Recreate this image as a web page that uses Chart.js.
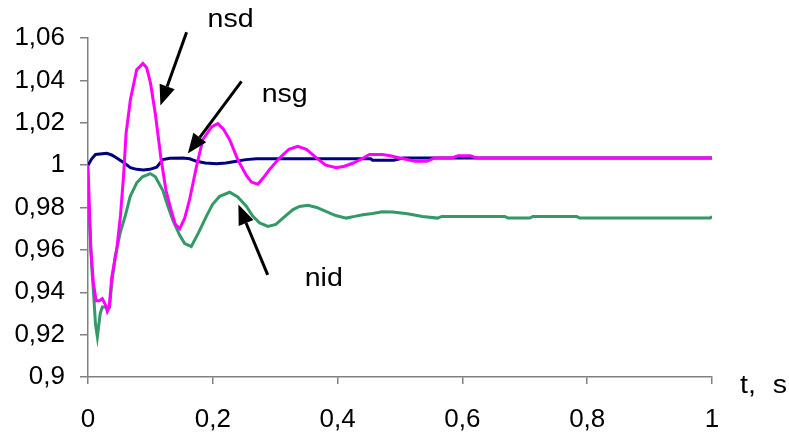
<!DOCTYPE html>
<html>
<head>
<meta charset="utf-8">
<script src="https://cdn.jsdelivr.net/npm/chart.js@4.4.1/dist/chart.umd.min.js"></script>
<style>
html,body{margin:0;padding:0;background:#fff;}
#wrap{width:789px;height:433px;position:relative;}
</style>
</head>
<body>
<div id="wrap"><canvas id="c" width="789" height="433"></canvas></div>
<script>
// ---- data ----
const xTicks = [0, 0.2, 0.4, 0.6, 0.8, 1];
const xTickLabels = ['0', '0,2', '0,4', '0,6', '0,8', '1'];
const yTicks = [0.9, 0.92, 0.94, 0.96, 0.98, 1, 1.02, 1.04, 1.06];
const yTickLabels = ['0,9', '0,92', '0,94', '0,96', '0,98', '1', '1,02', '1,04', '1,06'];

const nsdT = [0, 0.0045, 0.0088, 0.013, 0.018, 0.023, 0.028, 0.031, 0.034, 0.038, 0.046, 0.052, 0.057, 0.061, 0.068, 0.078, 0.088, 0.094, 0.100, 0.108, 0.117, 0.125, 0.133, 0.140, 0.147, 0.155, 0.163, 0.174, 0.184, 0.198, 0.208, 0.217, 0.227, 0.240, 0.254, 0.262, 0.272, 0.281, 0.291, 0.307, 0.322, 0.336, 0.350, 0.366, 0.381, 0.398, 0.411, 0.425, 0.439, 0.451, 0.472, 0.484, 0.500, 0.524, 0.543, 0.556, 0.583, 0.593, 0.613, 0.622, 1.0];
const nsdV = [1.000, 0.960, 0.944, 0.936, 0.936, 0.937, 0.934, 0.931, 0.933, 0.947, 0.960, 0.976, 0.995, 1.015, 1.031, 1.045, 1.048, 1.046, 1.039, 1.024, 1.003, 0.988, 0.979, 0.972, 0.970, 0.975, 0.984, 0.9995, 1.012, 1.018, 1.0196, 1.017, 1.012, 1.0026, 0.995, 0.992, 0.991, 0.994, 0.998, 1.0034, 1.0075, 1.0089, 1.0075, 1.0034, 1.000, 0.9988, 0.9995, 1.001, 1.003, 1.005, 1.005, 1.0044, 1.0034, 1.0018, 1.0018, 1.0034, 1.0034, 1.0044, 1.0044, 1.0034, 1.0034];

const nsgT = [0, 0.006, 0.012, 0.030, 0.038, 0.046, 0.057, 0.068, 0.078, 0.089, 0.099, 0.110, 0.120, 0.131, 0.152, 0.163, 0.174, 0.188, 0.206, 0.221, 0.238, 0.253, 0.270, 0.453, 0.456, 0.490, 0.505, 1.0];
const nsgV = [1.000, 1.003, 1.005, 1.0056, 1.0048, 1.0034, 1.0012, 0.9988, 0.998, 0.9977, 0.998, 0.999, 1.0026, 1.0032, 1.0034, 1.003, 1.0018, 1.001, 1.0007, 1.001, 1.0018, 1.0026, 1.003, 1.003, 1.0023, 1.0023, 1.0034, 1.0034];

const nidT = [0, 0.0035, 0.006, 0.0088, 0.012, 0.015, 0.0196, 0.023, 0.0345, 0.038, 0.0436, 0.0516, 0.0597, 0.0677, 0.0783, 0.0874, 0.0998, 0.108, 0.120, 0.1275, 0.136, 0.1468, 0.155, 0.1655, 0.177, 0.1896, 0.1997, 0.211, 0.227, 0.240, 0.2537, 0.264, 0.2751, 0.2884, 0.301, 0.3124, 0.3285, 0.339, 0.3525, 0.3665, 0.382, 0.397, 0.414, 0.4274, 0.4407, 0.456, 0.472, 0.488, 0.512, 0.536, 0.560, 0.567, 0.668, 0.673, 0.708, 0.713, 0.783, 0.788, 0.997, 1.0];
const nidV = [0.9845, 0.968, 0.952, 0.940, 0.925, 0.919, 0.930, 0.933, 0.933, 0.944, 0.957, 0.968, 0.976, 0.9853, 0.9917, 0.9945, 0.996, 0.9945, 0.988, 0.981, 0.974, 0.967, 0.963, 0.9616, 0.968, 0.9758, 0.9815, 0.9853, 0.9872, 0.985, 0.9806, 0.976, 0.9727, 0.9711, 0.972, 0.975, 0.979, 0.9805, 0.981, 0.980, 0.978, 0.9762, 0.975, 0.9758, 0.9766, 0.9772, 0.978, 0.9779, 0.977, 0.9758, 0.975, 0.9758, 0.9758, 0.975, 0.975, 0.9758, 0.9758, 0.975, 0.975, 0.9758];

const pts = (ts, vs) => ts.map((t, i) => ({x: t, y: vs[i]}));

// ---- annotations (data coordinates) ----
const FONT = '"Liberation Sans", Arial, sans-serif';
const labels = [
  {text: 'nsd', x: 0.1917, y: 1.065},
  {text: 'nsg', x: 0.2783, y: 1.0296},
  {text: 'nid', x: 0.3472, y: 0.9430},
  {text: 't, s', x: 1.0449, y: 0.8924}
];
const arrows = [
  {from: [0.158, 1.0627], to: [0.116, 1.0282]},
  {from: [0.246, 1.0395], to: [0.160, 1.0055]},
  {from: [0.288, 0.9482], to: [0.241, 0.9814]}
];

const annot = {
  id: 'annot',
  afterDraw(chart) {
    const {ctx, scales: {x, y}} = chart;
    ctx.save();
    ctx.fillStyle = '#000';
    ctx.strokeStyle = '#000';
    ctx.font = '26px ' + FONT;
    ctx.textBaseline = 'alphabetic';
    ctx.textAlign = 'left';
    try { ctx.wordSpacing = '8px'; } catch (e) {}
    labels.forEach(l => {
      const px = x.getPixelForValue(l.x), py = y.getPixelForValue(l.y);
      ctx.save();
      ctx.translate(px, py);
      ctx.scale(1.1, 1);
      ctx.fillText(l.text, 0, 0);
      ctx.restore();
    });
    arrows.forEach(a => {
      const x1 = x.getPixelForValue(a.from[0]), y1 = y.getPixelForValue(a.from[1]);
      const x2 = x.getPixelForValue(a.to[0]), y2 = y.getPixelForValue(a.to[1]);
      const ang = Math.atan2(y2 - y1, x2 - x1);
      const hl = 20, hw = 8;
      const bx = x2 - hl * Math.cos(ang), by = y2 - hl * Math.sin(ang);
      ctx.lineWidth = 3;
      ctx.beginPath();
      ctx.moveTo(x1, y1);
      ctx.lineTo(bx, by);
      ctx.stroke();
      ctx.beginPath();
      ctx.moveTo(x2, y2);
      ctx.lineTo(bx + hw * Math.sin(ang), by - hw * Math.cos(ang));
      ctx.lineTo(bx - hw * Math.sin(ang), by + hw * Math.cos(ang));
      ctx.closePath();
      ctx.fill();
    });
    ctx.restore();
  }
};

const axisColor = '#808080';
const tickFont = {family: FONT, size: 26};

new Chart(document.getElementById('c'), {
  type: 'line',
  data: {
    datasets: [
      {label: 'nsd', data: pts(nsdT, nsdV), borderColor: '#FF00FF', borderWidth: 3},
      {label: 'nid', data: pts(nidT, nidV), borderColor: '#339966', borderWidth: 3},
      {label: 'nsg', data: pts(nsgT, nsgV), borderColor: '#000080', borderWidth: 3}
    ]
  },
  options: {
    responsive: false,
    animation: false,
    devicePixelRatio: 1,
    layout: {padding: {top: 38, right: 77, left: 0, bottom: 0}},
    elements: {point: {radius: 0}, line: {tension: 0, fill: false}},
    plugins: {legend: {display: false}, tooltip: {enabled: false}},
    scales: {
      x: {
        type: 'linear', min: 0, max: 1,
        afterBuildTicks: s => { s.ticks = xTicks.map(v => ({value: v})); },
        afterFit: s => { s.height = 56; },
        grid: {drawOnChartArea: false, drawTicks: true, tickLength: 7, color: axisColor, lineWidth: 1.5},
        border: {display: true, color: axisColor, width: 1.5},
        ticks: {
          color: '#000', font: tickFont, padding: 20, maxRotation: 0, autoSkip: false,
          callback: v => xTickLabels[xTicks.findIndex(t => Math.abs(t - v) < 1e-9)]
        }
      },
      y: {
        type: 'linear', min: 0.9, max: 1.06,
        afterBuildTicks: s => { s.ticks = yTicks.map(v => ({value: v})); },
        afterFit: s => { s.width = 88; },
        grid: {drawOnChartArea: false, drawTicks: true, tickLength: 8, color: axisColor, lineWidth: 1.5},
        border: {display: true, color: axisColor, width: 1.5},
        ticks: {
          color: '#000', font: tickFont, padding: 15, autoSkip: false,
          callback: v => yTickLabels[yTicks.findIndex(t => Math.abs(t - v) < 1e-9)]
        }
      }
    }
  },
  plugins: [annot]
});
</script>
</body>
</html>
